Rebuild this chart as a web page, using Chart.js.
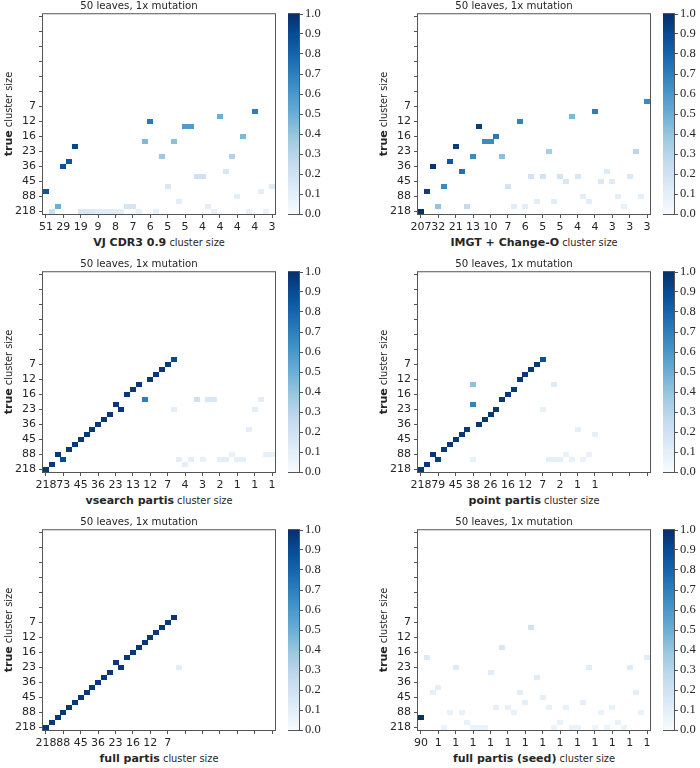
<!DOCTYPE html>
<html>
<head>
<meta charset="utf-8">
<script src="https://cdn.jsdelivr.net/npm/chart.js@4.4.1/dist/chart.umd.min.js"></script>
<style>
body{margin:0;background:#fff;}
#fig{position:relative;width:700px;height:768px;overflow:hidden;font-family:"DejaVu Sans";color:#262626;}
#fig canvas{position:absolute;}
.xl{position:absolute;width:300px;height:14px;line-height:14px;text-align:center;font-size:9.8px;white-space:nowrap;}
.xl b,.yl b{font-size:11px;}
.yl{position:absolute;width:200px;height:14px;line-height:14px;text-align:center;font-size:9.8px;white-space:nowrap;transform:rotate(-90deg);}
</style>
</head>
<body>
<div id="fig"></div>
<script>
var title = '50 leaves, 1x mutation';
var trueLabels = ['218', '88', '45', '36', '23', '16', '12', '7'];
var tickCells = [0, 3, 6, 9, 12, 15, 18, 21, 24, 27, 30, 33, 36, 39];
var cbarTicks = [0, 0.1, 0.2, 0.3, 0.4, 0.5, 0.6, 0.7, 0.8, 0.9, 1.0];

// x tick labels (inferred cluster sizes, every 3rd cluster)
var vjLabels = ['51', '29', '19', '9', '8', '7', '6', '5', '5', '4', '4', '4', '4', '3'];
var changeoLabels = ['207', '32', '21', '13', '10', '7', '6', '5', '5', '4', '4', '3', '3', '3'];
var vsearchLabels = ['218', '73', '45', '36', '23', '13', '12', '7', '4', '3', '2', '1', '1', '1'];
var pointLabels = ['218', '79', '45', '38', '26', '16', '12', '7', '2', '1', '1'];
var fullLabels = ['218', '88', '45', '36', '23', '16', '12', '7'];
var seedLabels = ['90', '1', '1', '1', '1', '1', '1', '1', '1', '1', '1', '1', '1', '1'];

// cells: [inferred cluster index, true cluster index, fraction]
var vjCells = [[0,4,0.85],[1,0,0.22],[2,1,0.5],[3,9,0.88],[4,10,0.85],[5,13,0.92],
  [6,0,0.16],[7,0,0.16],[8,0,0.14],[9,0,0.12],[10,0,0.11],[11,0,0.11],[12,0,0.11],[13,0,0.09],
  [14,1,0.17],[15,1,0.17],[16,0,0.08],[17,14,0.45],[18,18,0.72],[19,0,0.08],[20,11,0.38],
  [21,5,0.16],[22,14,0.42],[23,2,0.11],[24,17,0.58],[25,17,0.58],[26,7,0.2],[27,7,0.2],
  [28,1,0.1],[29,0,0.08],[30,19,0.5],[31,8,0.16],[32,11,0.3],[33,3,0.1],[34,15,0.45],
  [35,0,0.08],[36,20,0.7],[37,4,0.1],[38,0,0.07],[39,5,0.13]];
var changeoCells = [[0,0,1.0],[1,4,0.95],[2,9,0.98],[3,1,0.4],[4,5,0.65],[5,10,0.85],
  [6,13,0.95],[7,8,0.75],[8,1,0.25],[9,11,0.65],[10,17,0.95],[11,14,0.65],[12,14,0.65],
  [13,15,0.72],[14,11,0.42],[15,5,0.19],[16,1,0.11],[17,18,0.68],[18,1,0.11],[19,7,0.19],
  [20,2,0.11],[21,7,0.19],[22,12,0.35],[23,2,0.11],[24,7,0.19],[25,6,0.15],[26,19,0.45],
  [27,7,0.16],[28,3,0.1],[29,2,0.1],[30,20,0.7],[31,6,0.14],[32,8,0.13],[33,6,0.12],
  [34,3,0.09],[35,1,0.08],[36,7,0.14],[37,12,0.28],[38,3,0.09],[39,22,0.65]];
var vsearchCells = [[0,0,0.97],[1,1,0.97],[2,3,0.97],[3,2,0.9],[4,4,0.97],[5,5,0.97],
  [6,6,0.97],[7,7,0.97],[8,8,0.97],[9,9,0.97],[10,10,0.97],[11,11,0.97],[12,13,0.97],
  [13,12,0.97],[14,15,0.97],[15,16,0.97],[16,17,0.97],[17,14,0.7],[18,18,0.97],[19,19,0.97],
  [20,20,0.97],[21,21,0.97],[22,22,0.9],[22,12,0.09],[23,2,0.1],[24,1,0.1],[25,2,0.1],
  [26,14,0.2],[27,2,0.08],[28,14,0.16],[29,14,0.16],[30,2,0.1],[31,2,0.1],[32,3,0.07],
  [33,2,0.09],[34,2,0.09],[35,8,0.1],[36,12,0.11],[37,14,0.11],[38,3,0.08],[39,3,0.08]];
var pointCells = [[0,0,0.97],[1,1,0.97],[2,3,0.97],[3,2,0.95],[4,4,0.97],[5,5,0.97],
  [6,6,0.97],[7,7,0.97],[8,8,0.97],[9,17,0.42],[9,13,0.68],[9,2,0.08],[10,9,0.97],
  [11,10,0.97],[12,11,0.97],[13,12,0.97],[14,14,0.97],[15,15,0.97],[16,16,0.97],
  [17,18,0.97],[18,19,0.97],[19,20,0.97],[20,21,0.97],[21,22,0.88],[21,12,0.08],
  [22,2,0.09],[23,2,0.09],[24,2,0.09],[23,17,0.13],[25,3,0.07],[26,2,0.07],[27,8,0.09],
  [28,2,0.07],[29,3,0.07],[30,7,0.09]];
var fullCells = [[0,0,0.97],[1,1,0.97],[2,2,0.97],[3,3,0.97],[4,4,0.97],[5,5,0.97],
  [6,6,0.97],[7,7,0.97],[8,8,0.97],[9,9,0.97],[10,10,0.97],[11,11,0.97],[12,13,0.97],
  [13,12,0.97],[14,14,0.97],[15,15,0.97],[16,16,0.97],[17,17,0.97],[18,18,0.97],
  [19,19,0.97],[20,20,0.97],[21,21,0.97],[22,22,0.97],[23,12,0.1]];
var seedCells = [[0,2,1.0],[1,14,0.13],[2,7,0.09],[3,8,0.09],[4,0,0.06],[5,3,0.08],
  [6,12,0.12],[7,3,0.08],[8,1,0.07],[9,0,0.06],[10,0,0.06],[11,0,0.06],[12,11,0.11],
  [13,4,0.09],[14,16,0.16],[15,4,0.08],[16,3,0.07],[17,7,0.11],[18,5,0.09],[19,20,0.19],
  [20,10,0.12],[21,6,0.09],[22,4,0.08],[23,0,0.06],[24,1,0.07],[25,4,0.08],[26,0,0.06],
  [27,0,0.06],[28,5,0.1],[29,12,0.11],[30,0,0.06],[31,3,0.07],[32,0,0.06],[33,4,0.08],
  [34,1,0.07],[35,0,0.06],[36,12,0.12],[37,7,0.1],[38,3,0.07],[39,14,0.11]];

// matplotlib Blues
var bluesStops = [[247,251,255],[222,235,247],[198,219,239],[158,202,225],[107,174,214],
  [66,146,198],[33,113,181],[8,81,156],[8,48,107]];
function blues(v) {
  v = Math.max(0, Math.min(1, v)) * (bluesStops.length - 1);
  var i = Math.min(Math.floor(v), bluesStops.length - 2), t = v - i;
  var a = bluesStops[i], b = bluesStops[i + 1];
  return 'rgb(' + [0, 1, 2].map(function(k){ return Math.round(a[k] + (b[k] - a[k]) * t); }).join(',') + ')';
}

var cellCache = {};
function cellImage(color) {
  if (!cellCache[color]) {
    var c = document.createElement('canvas');
    c.width = 6; c.height = 5;
    var g = c.getContext('2d');
    g.fillStyle = color;
    g.fillRect(0, 0, 6, 5);
    cellCache[color] = c;
  }
  return cellCache[color];
}

var fig = document.getElementById('fig');
var edge = '#555';
var tickFont = {family: 'DejaVu Sans', size: 11};

var frame = {
  id: 'frame',
  afterDraw: function(chart) {
    var a = chart.chartArea, c = chart.ctx;
    c.save();
    c.strokeStyle = edge;
    c.lineWidth = 1;
    c.strokeRect(a.left - 0.5, a.top - 0.5, a.right - a.left + 1, a.bottom - a.top + 1);
    c.restore();
  }
};

function addCanvas(left, top, w, h) {
  var cv = document.createElement('canvas');
  cv.width = w; cv.height = h;
  cv.style.left = left + 'px'; cv.style.top = top + 'px';
  cv.style.width = w + 'px'; cv.style.height = h + 'px';
  fig.appendChild(cv);
  return cv;
}

function addText(cls, html, left, top) {
  var d = document.createElement('div');
  d.className = cls;
  d.innerHTML = html;
  d.style.left = left + 'px';
  d.style.top = top + 'px';
  fig.appendChild(d);
}

function heatmap(cells, xLabels, method, L, T) {
  var cv = addCanvas(L - 40, T - 14, 284, 232);
  new Chart(cv, {
    type: 'scatter',
    data: {
      datasets: [{
        data: cells.map(function(c){ return {x: c[0], y: c[1], v: c[2]}; }),
        pointStyle: function(ctx){ return cellImage(blues(ctx.raw ? ctx.raw.v : 0)); },
        pointRadius: 3,
        pointHoverRadius: 3,
        borderWidth: 0
      }]
    },
    options: {
      responsive: false,
      animation: false,
      events: [],
      layout: {padding: {right: 12}},
      plugins: {
        legend: {display: false},
        tooltip: {enabled: false},
        title: {
          display: true, text: title, color: '#262626',
          font: {family: 'DejaVu Sans', size: 10.2, weight: 'normal'},
          padding: {top: 0, bottom: 2}
        }
      },
      scales: {
        x: {
          type: 'linear', min: -0.5, max: 39.5,
          afterBuildTicks: function(s){ s.ticks = tickCells.map(function(v){ return {value: v}; }); },
          afterFit: function(s){ s.height = 18; s.paddingLeft = 0; s.paddingRight = 0; },
          ticks: {
            autoSkip: false, maxRotation: 0, padding: 3, color: '#262626', font: tickFont,
            callback: function(v, i){ return xLabels[i] || ''; }
          },
          grid: {drawOnChartArea: false, tickLength: 4, color: edge},
          border: {display: false}
        },
        y: {
          type: 'linear', min: -0.5, max: 39.5,
          afterBuildTicks: function(s){ s.ticks = tickCells.map(function(v){ return {value: v}; }); },
          afterFit: function(s){ s.width = 40; s.paddingTop = 0; s.paddingBottom = 0; },
          ticks: {
            autoSkip: false, padding: 3, color: '#262626', font: tickFont,
            callback: function(v, i){ return trueLabels[i] || ''; }
          },
          grid: {drawOnChartArea: false, tickLength: 4, color: edge},
          border: {display: false}
        }
      }
    },
    plugins: [frame]
  });
  addText('xl', '<b>' + method + '</b> cluster size', L + 116 - 150, T + 222);
  addText('yl', '<b>true</b> cluster size', L - 34 - 100, T + 100 - 7);
}

function colorbar(L, T) {
  var cv = addCanvas(L, T - 6, 45, 212);
  var sets = [];
  for (var i = 0; i < 100; i++) {
    sets.push({
      data: [[i / 100, (i + 1) / 100]],
      backgroundColor: blues((i + 0.5) / 100),
      borderWidth: 0, grouped: false,
      barPercentage: 1, categoryPercentage: 1
    });
  }
  new Chart(cv, {
    type: 'bar',
    data: {labels: [''], datasets: sets},
    options: {
      responsive: false,
      animation: false,
      events: [],
      layout: {padding: {top: 6, bottom: 6}},
      plugins: {legend: {display: false}, tooltip: {enabled: false}},
      scales: {
        x: {display: false},
        y: {
          position: 'right', min: 0, max: 1,
          afterBuildTicks: function(s){ s.ticks = cbarTicks.map(function(v){ return {value: v}; }); },
          afterFit: function(s){ s.width = 34; s.paddingTop = 0; s.paddingBottom = 0; },
          ticks: {
            padding: 2, color: '#262626', font: {family: 'Liberation Serif', size: 12.5},
            callback: function(v){ return v.toFixed(1); }
          },
          grid: {drawOnChartArea: false, tickLength: 4, color: edge},
          border: {display: false}
        }
      }
    },
    plugins: [frame]
  });
}

heatmap(vjCells, vjLabels, 'VJ CDR3 0.9', 43, 14);
heatmap(changeoCells, changeoLabels, 'IMGT + Change-O', 418, 14);
heatmap(vsearchCells, vsearchLabels, 'vsearch partis', 43, 272);
heatmap(pointCells, pointLabels, 'point partis', 418, 272);
heatmap(fullCells, fullLabels, 'full partis', 43, 530);
heatmap(seedCells, seedLabels, 'full partis (seed)', 418, 530);
colorbar(288, 14);
colorbar(663, 14);
colorbar(288, 272);
colorbar(663, 272);
colorbar(288, 530);
colorbar(663, 530);
</script>
</body>
</html>
